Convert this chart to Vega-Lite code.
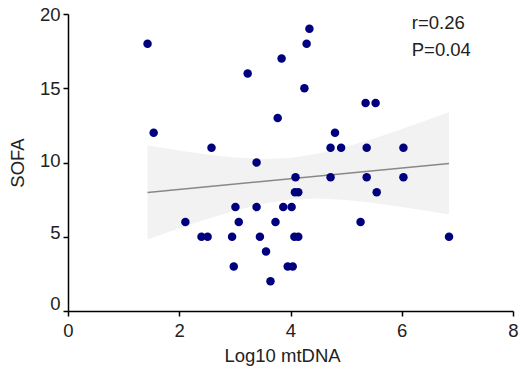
{
  "$schema": "https://vega.github.io/schema/vega-lite/v6.json",
  "autosize": "none",
  "width": 445,
  "height": 297,
  "padding": {"left": 68, "top": 14, "right": 7, "bottom": 58},
  "background": "white",
  "config": {
    "view": {"stroke": null},
    "font": "Liberation Sans",
    "axis": {
      "grid": false,
      "domainColor": "#000000",
      "domainWidth": 1.5,
      "tickColor": "#000000",
      "tickWidth": 1.5,
      "tickSize": 5,
      "labelFont": "Liberation Sans",
      "labelFontSize": 18.5,
      "labelColor": "#222222",
      "titleFont": "Liberation Sans",
      "titleFontSize": 18.5,
      "titleFontWeight": "normal",
      "titleColor": "#222222"
    }
  },
  "datasets": {
    "pts": [
      {"mtdna": 1.43, "sofa": 18}, {"mtdna": 1.54, "sofa": 12}, {"mtdna": 2.58, "sofa": 11},
      {"mtdna": 3.23, "sofa": 16}, {"mtdna": 3.39, "sofa": 10}, {"mtdna": 4.34, "sofa": 19},
      {"mtdna": 4.29, "sofa": 18}, {"mtdna": 3.84, "sofa": 17}, {"mtdna": 4.25, "sofa": 15},
      {"mtdna": 3.77, "sofa": 13}, {"mtdna": 5.35, "sofa": 14}, {"mtdna": 5.53, "sofa": 14},
      {"mtdna": 4.80, "sofa": 12}, {"mtdna": 4.72, "sofa": 11}, {"mtdna": 4.91, "sofa": 11},
      {"mtdna": 5.37, "sofa": 11}, {"mtdna": 6.03, "sofa": 11}, {"mtdna": 4.09, "sofa": 9},
      {"mtdna": 4.72, "sofa": 9}, {"mtdna": 5.37, "sofa": 9}, {"mtdna": 6.03, "sofa": 9},
      {"mtdna": 6.85, "sofa": 5}, {"mtdna": 4.08, "sofa": 8}, {"mtdna": 4.14, "sofa": 8},
      {"mtdna": 5.55, "sofa": 8}, {"mtdna": 3.39, "sofa": 7}, {"mtdna": 3.87, "sofa": 7},
      {"mtdna": 4.02, "sofa": 7}, {"mtdna": 3.01, "sofa": 7}, {"mtdna": 2.11, "sofa": 6},
      {"mtdna": 3.07, "sofa": 6}, {"mtdna": 3.73, "sofa": 6}, {"mtdna": 5.26, "sofa": 6},
      {"mtdna": 2.40, "sofa": 5}, {"mtdna": 2.51, "sofa": 5}, {"mtdna": 2.95, "sofa": 5},
      {"mtdna": 3.45, "sofa": 5}, {"mtdna": 4.07, "sofa": 5}, {"mtdna": 4.14, "sofa": 5},
      {"mtdna": 3.56, "sofa": 4}, {"mtdna": 2.98, "sofa": 3}, {"mtdna": 3.95, "sofa": 3},
      {"mtdna": 4.04, "sofa": 3}, {"mtdna": 3.64, "sofa": 2}
    ],
    "band": [
      {"mtdna": 1.43, "lo": 4.81, "hi": 11.15},
      {"mtdna": 2.0, "lo": 5.57, "hi": 10.81},
      {"mtdna": 2.5, "lo": 6.20, "hi": 10.54},
      {"mtdna": 3.0, "lo": 6.76, "hi": 10.34},
      {"mtdna": 3.5, "lo": 7.22, "hi": 10.24},
      {"mtdna": 4.0, "lo": 7.51, "hi": 10.31},
      {"mtdna": 4.5, "lo": 7.58, "hi": 10.60},
      {"mtdna": 5.0, "lo": 7.48, "hi": 11.06},
      {"mtdna": 5.5, "lo": 7.28, "hi": 11.62},
      {"mtdna": 6.0, "lo": 7.01, "hi": 12.25},
      {"mtdna": 6.5, "lo": 6.71, "hi": 12.91},
      {"mtdna": 6.85, "lo": 6.49, "hi": 13.39}
    ],
    "fit": [
      {"mtdna": 1.43, "sofa": 7.98},
      {"mtdna": 6.85, "sofa": 9.94}
    ],
    "ann": [
      {"mtdna": 6.18, "sofa": 19.0, "label": "r=0.26"},
      {"mtdna": 6.18, "sofa": 17.2, "label": "P=0.04"}
    ]
  },
  "encoding": {
    "x": {
      "field": "mtdna", "type": "quantitative",
      "scale": {"domain": [0, 8], "nice": false},
      "axis": {"values": [0, 2, 4, 6, 8], "title": "Log10 mtDNA", "labelPadding": 5, "titlePadding": 7, "labelFlush": false, "titleX": 214}
    }
  },
  "layer": [
    {
      "data": {"name": "band"},
      "mark": {"type": "area", "color": "#f2f2f2", "opacity": 1},
      "encoding": {
        "y": {"field": "lo", "type": "quantitative", "scale": {"domain": [0, 20], "nice": false},
          "axis": {"values": [0, 5, 10, 15, 20], "title": "SOFA", "labelPadding": 3, "titlePadding": 12,
            "labelOffset": {"condition": [{"test": "datum.value == 0", "value": -8}, {"test": "datum.value == 5", "value": -4}, {"test": "datum.value == 10", "value": -2}], "value": 0}}},
        "y2": {"field": "hi"}
      }
    },
    {
      "data": {"name": "fit"},
      "mark": {"type": "line", "color": "#888888", "strokeWidth": 1.5},
      "encoding": {"y": {"field": "sofa", "type": "quantitative"}}
    },
    {
      "data": {"name": "pts"},
      "mark": {"type": "circle", "color": "#00007f", "size": 72, "opacity": 1},
      "encoding": {"y": {"field": "sofa", "type": "quantitative"}}
    },
    {
      "data": {"name": "ann"},
      "mark": {"type": "text", "align": "left", "baseline": "alphabetic", "fontSize": 18.5, "font": "Liberation Sans", "color": "#222222"},
      "encoding": {
        "y": {"field": "sofa", "type": "quantitative"},
        "text": {"field": "label"}
      }
    }
  ]
}
